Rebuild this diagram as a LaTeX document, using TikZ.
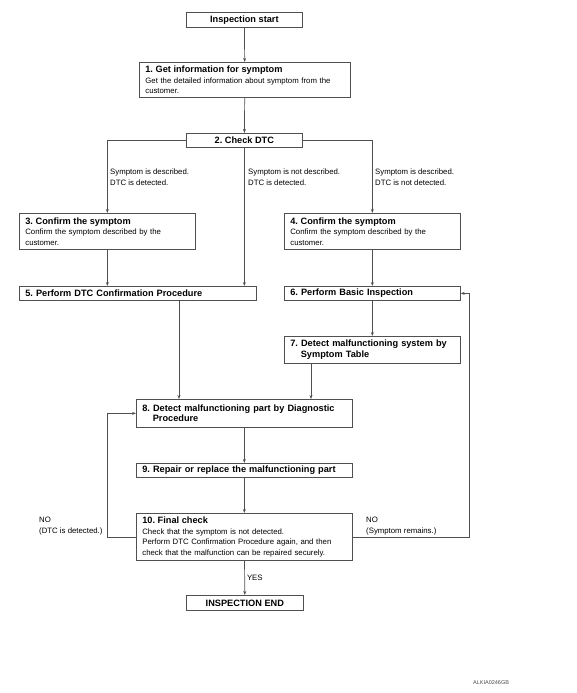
\documentclass[tikz,border=0pt]{standalone}
\usepackage{fontspec}
\setmainfont{Liberation Sans}
\usetikzlibrary{arrows.meta}
\definecolor{lc}{RGB}{80,80,80}
\newcommand\titlef{\fontsize{9.2}{10.5}\selectfont\bfseries\frenchspacing}
\newcommand\bodyf{\fontsize{7.8}{10.5}\selectfont\frenchspacing}
\begin{document}
\frenchspacing
\begin{tikzpicture}[x=1pt,y=-1pt,
  lbox/.style={draw=lc, line width=0.7pt, anchor=north west, inner xsep=6pt, inner ysep=0pt, align=left, font=\bodyf},
  cbox/.style={draw=lc, line width=0.7pt, anchor=north west, inner sep=0pt, align=center, font=\titlef},
  arr/.style={draw=lc, line width=0.7pt, -{Stealth[length=4pt,width=3pt]}},
  lab/.style={inner sep=0pt, anchor=west, align=left, font=\bodyf}]
\fill[white] (0,0) rectangle (576,693);
\useasboundingbox (0,0) rectangle (576,693);

\node[cbox, minimum width=116pt, minimum height=15pt] (st) at (186,12) {Inspection start};
\node[lbox, minimum width=211pt, minimum height=35pt, text width=199pt] (b1) at (139,62)
  {{\titlef 1. Get information for symptom}\\Get the detailed information about symptom from the\\customer.};
\node[cbox, minimum width=116pt, minimum height=14pt] (b2) at (186,133) {2. Check DTC};
\node[lbox, minimum width=176pt, minimum height=36pt, text width=164pt] (b3) at (19,213)
  {{\titlef 3. Confirm the symptom}\\Confirm the symptom described by the\\customer.};
\node[lbox, minimum width=176pt, minimum height=36pt, text width=164pt] (b4) at (284,213)
  {{\titlef 4. Confirm the symptom}\\Confirm the symptom described by the\\customer.};
\node[lbox, minimum width=237pt, minimum height=14pt, text width=225pt, font=\titlef] (b5) at (19,286)
  {5. Perform DTC Confirmation Procedure};
\node[lbox, minimum width=176pt, minimum height=14pt, text width=164pt, font=\titlef] (b6) at (284,286)
  {6. Perform Basic Inspection};
\node[lbox, minimum width=176pt, minimum height=27pt, text width=164pt, font=\titlef] (b7) at (284,336)
  {7. Detect malfunctioning system by\\\hspace*{10.5pt}Symptom Table};
\node[lbox, minimum width=216pt, minimum height=28pt, text width=204pt, font=\titlef] (b8) at (136,399)
  {8. Detect malfunctioning part by Diagnostic\\\hspace*{10.5pt}Procedure};
\node[lbox, minimum width=216pt, minimum height=14pt, text width=204pt, font=\titlef] (b9) at (136,463)
  {9. Repair or replace the malfunctioning part};
\node[lbox, minimum width=216pt, minimum height=47pt, text width=204pt] (b10) at (136,513)
  {{\titlef 10. Final check}\\Check that the symptom is not detected.\\Perform DTC Confirmation Procedure again, and then\\check that the malfunction can be repaired securely.};
\node[cbox, minimum width=117pt, minimum height=15pt] (en) at (186,595) {INSPECTION END};

\node[lab] (l1) at (110,177) {Symptom is described.\\DTC is detected.};
\node[lab] (l2) at (248,177) {Symptom is not described.\\DTC is detected.};
\node[lab] (l3) at (375,177) {Symptom is described.\\DTC is not detected.};
\node[lab] (n1) at (39,526) {NO\\(DTC is detected.)};
\node[lab] (n2) at (366,526) {NO\\(Symptom remains.)};
\node[inner sep=0pt, anchor=west, font=\fontsize{5.5}{6}\selectfont, text=black!70] (code) at (473,683) {ALKIA0246GB};

\path[arr] (st) -- (b1);
\path[arr] (b1) -- (b2);
\path[arr] (b2.west) -| (b3.north);
\path[arr] (b2.east) -| (b4.north);
\path[arr] (b2.south) -- (b2.south |- b5.north);
\path[arr] (b3) -- (b3.south |- b5.north);
\path[arr] (b4) -- (b4.south |- b6.north);
\path[arr] (b6) -- (b6.south |- b7.north);
\coordinate (c5) at (179,300);
\path[arr] (c5 |- b5.south) -- (c5 |- b8.north);
\coordinate (c7) at (311,363);
\path[arr] (c7 |- b7.south) -- (c7 |- b8.north);
\path[arr] (b8) -- (b9);
\path[arr] (b9) -- (b10);
\path[arr] (b10) -- node[right, inner sep=2pt, font=\bodyf] (yes) {YES} (en);
\coordinate (lx) at (107,0);
\coordinate (rx) at (469,0);
\path[arr] (b10.west) -- (lx |- b10.west) -- (lx |- b8.west) -- (b8.west);
\path[arr] (b10.east) -- (rx |- b10.east) -- (rx |- b6.east) -- (b6.east);
\end{tikzpicture}
\end{document}
